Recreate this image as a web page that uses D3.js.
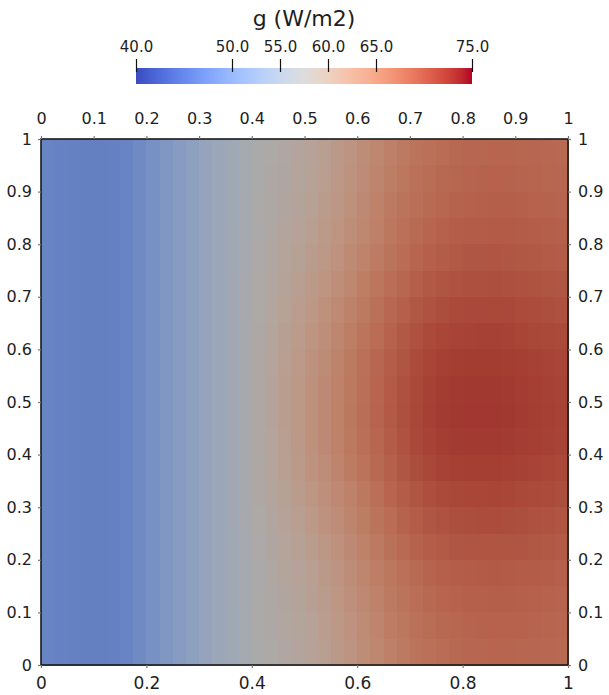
<!DOCTYPE html>
<html>
<head>
<meta charset="utf-8">
<script src="https://cdn.jsdelivr.net/npm/d3@7"></script>
<style>
  body { margin: 0; background: #fff; }
  text { font-family: "DejaVu Sans", sans-serif; fill: #1e1e1e; }
</style>
</head>
<body>
<svg></svg>
<script>
var width = 609;
var height = 695;

// field values g (W/m2), 40 columns (x = 0 -> 1) by 20 rows (y = 1 -> 0)
var gValues = [
  [48.3,48.1,47.9,47.8,47.8,47.9,48.4,49.2,50.2,51.2,52.2,53.2,54.1,55.0,55.7,56.6,57.5,58.0,58.5,59.0,59.7,60.5,61.4,62.4,63.4,64.3,65.2,65.9,66.5,67.0,67.4,67.7,67.9,68.0,68.1,68.1,68.0,67.9,67.8,67.7],
  [48.3,48.1,47.9,47.8,47.8,47.9,48.4,49.2,50.2,51.2,52.2,53.2,54.1,55.0,55.7,56.6,57.5,58.1,58.6,59.2,59.9,60.7,61.6,62.6,63.6,64.5,65.4,66.2,66.8,67.3,67.7,68.0,68.2,68.3,68.4,68.3,68.2,68.1,68.0,67.9],
  [48.3,48.1,47.9,47.8,47.8,47.9,48.4,49.2,50.2,51.2,52.2,53.2,54.1,55.0,55.7,56.7,57.6,58.2,58.8,59.4,60.1,61.0,61.9,62.9,63.9,64.9,65.8,66.5,67.1,67.6,68.0,68.3,68.5,68.6,68.7,68.7,68.6,68.4,68.3,68.2],
  [48.3,48.1,47.9,47.8,47.8,47.9,48.4,49.2,50.2,51.2,52.2,53.2,54.1,55.0,55.8,56.7,57.7,58.3,59.0,59.7,60.5,61.3,62.3,63.3,64.3,65.2,66.2,66.9,67.6,68.1,68.5,68.8,68.9,69.0,69.1,69.1,68.9,68.8,68.7,68.6],
  [48.3,48.1,47.9,47.8,47.8,47.9,48.4,49.2,50.2,51.2,52.2,53.2,54.1,55.0,55.8,56.8,57.8,58.5,59.3,60.0,60.9,61.8,62.7,63.8,64.8,65.7,66.6,67.4,68.1,68.6,69.0,69.3,69.5,69.5,69.6,69.5,69.4,69.3,69.1,69.0],
  [48.3,48.1,47.9,47.8,47.8,47.9,48.4,49.2,50.2,51.2,52.2,53.2,54.1,55.0,55.9,56.9,57.9,58.7,59.6,60.4,61.3,62.3,63.3,64.3,65.3,66.3,67.2,68.0,68.7,69.3,69.7,69.9,70.1,70.1,70.2,70.1,70.0,69.8,69.7,69.5],
  [48.3,48.1,47.9,47.8,47.8,47.9,48.4,49.2,50.2,51.2,52.2,53.2,54.1,55.0,55.9,56.9,58.0,58.9,59.9,60.8,61.8,62.8,63.8,64.9,65.9,66.8,67.8,68.6,69.4,69.9,70.3,70.6,70.7,70.7,70.8,70.7,70.5,70.4,70.2,70.0],
  [48.3,48.1,47.9,47.8,47.8,47.9,48.4,49.2,50.2,51.2,52.2,53.2,54.1,55.0,55.9,57.0,58.1,59.1,60.2,61.2,62.3,63.3,64.4,65.4,66.4,67.4,68.4,69.3,70.0,70.6,71.0,71.2,71.3,71.4,71.4,71.3,71.1,70.9,70.8,70.6],
  [48.3,48.1,47.9,47.8,47.8,47.9,48.4,49.2,50.2,51.2,52.2,53.2,54.1,55.0,56.0,57.1,58.2,59.3,60.4,61.5,62.6,63.7,64.8,65.9,66.9,67.9,68.8,69.7,70.5,71.1,71.5,71.7,71.8,71.8,71.8,71.7,71.6,71.4,71.2,71.0],
  [48.3,48.1,47.9,47.8,47.8,47.9,48.4,49.2,50.2,51.2,52.2,53.2,54.1,55.0,56.0,57.1,58.3,59.4,60.6,61.7,62.8,63.9,65.0,66.1,67.1,68.1,69.1,70.0,70.8,71.4,71.8,72.0,72.1,72.1,72.1,72.0,71.8,71.6,71.4,71.2],
  [48.3,48.1,47.9,47.8,47.8,47.9,48.4,49.2,50.2,51.2,52.2,53.2,54.1,55.0,56.0,57.1,58.3,59.4,60.6,61.7,62.9,64.0,65.1,66.2,67.2,68.2,69.2,70.1,70.9,71.5,71.9,72.1,72.2,72.2,72.2,72.1,71.9,71.7,71.5,71.3],
  [48.3,48.1,47.9,47.8,47.8,47.9,48.4,49.2,50.2,51.2,52.2,53.2,54.1,55.0,56.0,57.1,58.3,59.3,60.5,61.6,62.8,63.9,65.0,66.1,67.1,68.0,69.0,69.9,70.7,71.3,71.7,71.9,72.0,72.0,72.0,71.9,71.7,71.6,71.4,71.2],
  [48.3,48.1,47.9,47.8,47.8,47.9,48.4,49.2,50.2,51.2,52.2,53.2,54.1,55.0,56.0,57.0,58.2,59.2,60.3,61.3,62.5,63.5,64.6,65.7,66.7,67.7,68.6,69.5,70.3,70.9,71.3,71.5,71.6,71.6,71.6,71.5,71.4,71.2,71.0,70.8],
  [48.3,48.1,47.9,47.8,47.8,47.9,48.4,49.2,50.2,51.2,52.2,53.2,54.1,55.0,55.9,57.0,58.1,59.0,60.0,60.9,62.0,63.0,64.1,65.1,66.1,67.1,68.1,68.9,69.7,70.2,70.6,70.9,71.0,71.0,71.1,71.0,70.8,70.6,70.5,70.3],
  [48.3,48.1,47.9,47.8,47.8,47.9,48.4,49.2,50.2,51.2,52.2,53.2,54.1,55.0,55.9,56.9,58.0,58.8,59.7,60.5,61.5,62.5,63.5,64.5,65.5,66.5,67.4,68.3,69.0,69.5,69.9,70.2,70.3,70.4,70.4,70.3,70.2,70.0,69.9,69.7],
  [48.3,48.1,47.9,47.8,47.8,47.9,48.4,49.2,50.2,51.2,52.2,53.2,54.1,55.0,55.8,56.8,57.8,58.6,59.3,60.1,61.0,61.9,62.9,63.9,64.9,65.9,66.8,67.6,68.3,68.8,69.2,69.5,69.6,69.7,69.7,69.7,69.6,69.4,69.3,69.1],
  [48.3,48.1,47.9,47.8,47.8,47.9,48.4,49.2,50.2,51.2,52.2,53.2,54.1,55.0,55.8,56.7,57.7,58.4,59.1,59.7,60.5,61.4,62.4,63.4,64.4,65.3,66.2,67.0,67.6,68.2,68.6,68.8,69.0,69.1,69.2,69.1,69.0,68.9,68.8,68.6],
  [48.3,48.1,47.9,47.8,47.8,47.9,48.4,49.2,50.2,51.2,52.2,53.2,54.1,55.0,55.8,56.7,57.6,58.2,58.8,59.4,60.2,61.0,62.0,63.0,64.0,64.9,65.8,66.5,67.2,67.7,68.1,68.4,68.6,68.6,68.7,68.7,68.6,68.5,68.4,68.2],
  [48.3,48.1,47.9,47.8,47.8,47.9,48.4,49.2,50.2,51.2,52.2,53.2,54.1,55.0,55.7,56.6,57.6,58.1,58.7,59.2,59.9,60.8,61.7,62.7,63.7,64.6,65.5,66.2,66.8,67.3,67.7,68.0,68.2,68.3,68.4,68.4,68.3,68.2,68.1,68.0],
  [48.3,48.1,47.9,47.8,47.8,47.9,48.4,49.2,50.2,51.2,52.2,53.2,54.1,55.0,55.7,56.6,57.5,58.0,58.5,59.0,59.7,60.5,61.4,62.4,63.4,64.3,65.2,65.9,66.5,67.0,67.4,67.7,67.9,68.0,68.1,68.1,68.0,67.9,67.8,67.7]
];

var xTicksTop = [0, 0.1, 0.2, 0.3, 0.4, 0.5, 0.6, 0.7, 0.8, 0.9, 1];
var xTicksBottom = [0, 0.2, 0.4, 0.6, 0.8, 1];
var yTicks = [0, 0.1, 0.2, 0.3, 0.4, 0.5, 0.6, 0.7, 0.8, 0.9, 1];
var legendTicks = [40, 50, 55, 60, 65, 75];
var legendRange = [40, 75];
var legendTitle = "g (W/m2)";

// ParaView "Cool to Warm"
var coolWarm = [[59,76,192],[68,90,204],[77,104,215],[87,117,225],[98,130,234],[108,142,241],
  [119,154,247],[130,165,251],[141,176,254],[152,185,255],[163,194,255],[174,201,253],
  [184,208,249],[194,213,244],[204,217,238],[213,219,230],[221,221,221],[229,216,209],
  [236,211,197],[241,204,185],[245,196,173],[247,187,160],[247,177,148],[247,166,135],
  [244,154,123],[241,141,111],[236,127,99],[229,112,88],[222,96,77],[213,80,66],
  [203,62,56],[192,40,47],[180,4,38]];
var shade = 0.77; // lighting on the rendered surface

var colorScale = d3.scaleLinear()
                    .domain(coolWarm.map((c, i) => legendRange[0] + (legendRange[1] - legendRange[0]) * i / (coolWarm.length - 1)))
                    .range(coolWarm.map(c => d3.rgb(c[0], c[1], c[2])))
                    .interpolate(d3.interpolateRgb)
                    .clamp(true);

function shaded(v){
  var c = d3.rgb(colorScale(v));
  return d3.rgb(c.r * shade, c.g * shade, c.b * shade);
}

var svg = d3.select("svg")
              .attr("width", width)
              .attr("height", height);

var x = d3.scaleLinear().domain([0, 1]).range([41, 568]);
var y = d3.scaleLinear().domain([0, 1]).range([665, 139]);

var nRows = gValues.length;
var nCols = gValues[0].length;

var colBand = d3.scaleBand().domain(d3.range(nCols)).range([x(0), x(1)]);
var rowBand = d3.scaleBand().domain(d3.range(nRows)).range([y(1), y(0)]);

var cells = [];
gValues.forEach((row, r) => row.forEach((v, c) => cells.push({r: r, c: c, v: v})));

svg
  .append("g")
    .classed("field", true)
  .selectAll("rect")
  .data(cells)
  .enter()
  .append("rect")
    .attr("x", d => colBand(d.c))
    .attr("y", d => rowBand(d.r))
    .attr("width", colBand.bandwidth() + 0.6)
    .attr("height", rowBand.bandwidth() + 0.6)
    .attr("fill", d => shaded(d.v))
    .attr("shape-rendering", "crispEdges");

svg
  .append("rect")
    .attr("x", x(0))
    .attr("y", y(1))
    .attr("width", x(1) - x(0))
    .attr("height", y(0) - y(1))
    .attr("fill", "none")
    .attr("stroke", "#1a1a1a")
    .attr("stroke-width", 1.6);

function styleAxis(g, size){
  g.select(".domain").remove();
  g.selectAll(".tick line").attr("stroke", "#777").attr("stroke-width", 1.2);
  g.selectAll(".tick text")
    .style("font-family", "DejaVu Sans, sans-serif")
    .style("font-size", size + "px")
    .attr("fill", "#1e1e1e");
}

svg.append("g")
    .attr("transform", "translate(0," + y(1) + ")")
    .call(d3.axisTop(x).tickValues(xTicksTop).tickSize(3).tickPadding(12).tickFormat(d => String(d)))
    .call(g => styleAxis(g, 16));

svg.append("g")
    .attr("transform", "translate(0," + y(0) + ")")
    .call(d3.axisBottom(x).tickValues(xTicksBottom).tickSize(3).tickPadding(9).tickFormat(d => String(d)))
    .call(g => styleAxis(g, 17));

svg.append("g")
    .attr("transform", "translate(" + x(0) + ",0)")
    .call(d3.axisLeft(y).tickValues(yTicks).tickSize(3).tickPadding(6).tickFormat(d => String(d)))
    .call(g => styleAxis(g, 16));

svg.append("g")
    .attr("transform", "translate(" + x(1) + ",0)")
    .call(d3.axisRight(y).tickValues(yTicks).tickSize(3).tickPadding(7).tickFormat(d => String(d)))
    .call(g => styleAxis(g, 16));

// color legend
var legendX = d3.scaleLinear().domain(legendRange).range([136, 472]);

var grad = svg.append("defs")
  .append("linearGradient")
    .attr("id", "cbar")
    .attr("x1", "0%").attr("x2", "100%")
    .attr("y1", "0%").attr("y2", "0%");

grad.selectAll("stop")
  .data(colorScale.domain())
  .enter()
  .append("stop")
    .attr("offset", d => ((d - legendRange[0]) / (legendRange[1] - legendRange[0]) * 100) + "%")
    .attr("stop-color", d => colorScale(d));

svg.append("rect")
    .attr("x", legendX(legendRange[0]))
    .attr("y", 68)
    .attr("width", legendX(legendRange[1]) - legendX(legendRange[0]))
    .attr("height", 16)
    .attr("fill", "url(#cbar)");

svg.append("g")
    .attr("transform", "translate(0,72)")
    .call(d3.axisTop(legendX).tickValues(legendTicks).tickSize(13).tickPadding(7).tickFormat(d3.format(".1f")))
    .call(g => {
      g.select(".domain").remove();
      g.selectAll(".tick line").attr("stroke", "#111").attr("stroke-width", 1.2);
      g.selectAll(".tick text")
        .style("font-family", "DejaVu Sans, sans-serif")
        .style("font-size", "15px")
        .attr("fill", "#1e1e1e");
    });

svg.append("text")
    .attr("x", (legendX(legendRange[0]) + legendX(legendRange[1])) / 2)
    .attr("y", 26)
    .style("font-size", "22px")
    .style("text-anchor", "middle")
    .text(legendTitle);
</script>
</body>
</html>
